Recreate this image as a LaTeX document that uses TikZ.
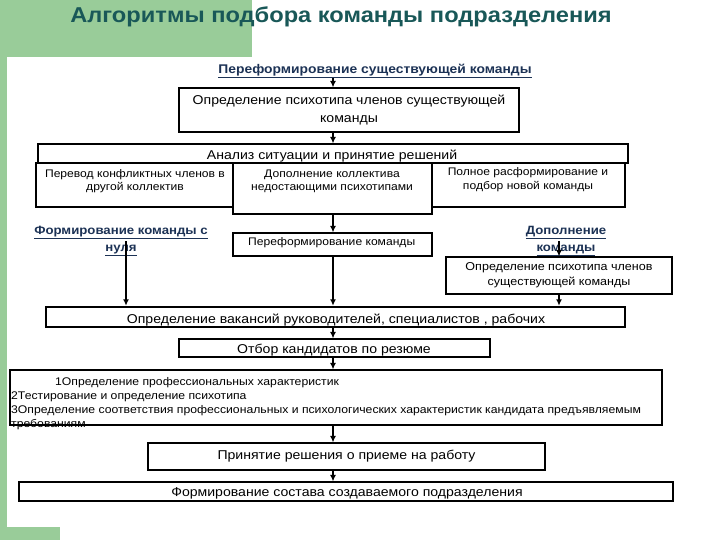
\documentclass[tikz,border=0pt]{standalone}
\usepackage{fontspec}
\setmainfont{Liberation Sans}[FakeStretch=1.1]
\usetikzlibrary{arrows.meta}
\definecolor{gr}{RGB}{153,204,153}
\definecolor{titlec}{RGB}{25,88,88}
\definecolor{navy}{RGB}{28,50,85}
\begin{document}
\begin{tikzpicture}[x=1pt,y=-1pt,
 box/.style={draw=black, line width=1.1pt, inner sep=0, fill=white},
 txt/.style={inner sep=0, align=center, font=\fontsize{12.8}{18}\selectfont},
 stxt/.style={inner sep=0, align=center, font=\fontsize{11}{13}\selectfont},
 ul/.style={inner sep=0, align=center, text=navy, font=\bfseries\fontsize{12}{17}\selectfont},
 arr/.style={-{Latex[length=6.5pt,width=6pt]}, line width=1.3pt}]
\useasboundingbox (0,0) rectangle (720,540);
\fill[white] (0,0) rectangle (720,540);
\fill[gr] (0,0) rectangle (252,57);
\fill[gr] (0,0) rectangle (7,540);
\fill[gr] (0,527) rectangle (60,540);
\coordinate (cx) at (333,0);
\coordinate (cf) at (126,0);
\coordinate (cd) at (559,0);
% title
\node[inner sep=0, text=titlec, font=\bfseries\fontsize{21.5}{24}\selectfont] (title) at (341,17) {Алгоритмы подбора команды подразделения};
% top
\node[ul, font=\bfseries\fontsize{12.6}{15}\selectfont] (t1) at (375,71) {\underline{Переформирование существующей команды}};
\node[box, txt, minimum width=340pt, minimum height=44pt] (b2) at (349,110) {Определение психотипа членов существующей\\команды};
% analysis
\node[box, minimum width=590pt, minimum height=19pt] (ban) at (333,153.5) {};
\node[txt] (tan) at (332,156) {Анализ ситуации и принятие решений};
\node[box, minimum width=197pt, minimum height=44pt] (b5) at (134.5,185) {};
\node[stxt] (t5) at (135,181.5) {Перевод конфликтных членов в\\другой коллектив};
\node[box, minimum width=199pt, minimum height=51pt] (b6) at (332.5,188.5) {};
\node[stxt] (t6) at (332,181) {Дополнение коллектива\\недостающими психотипами};
\node[box, minimum width=193pt, minimum height=44pt] (b7) at (528.5,185) {};
\node[stxt, font=\fontsize{11}{14}\selectfont] (t7) at (528,180) {Полное расформирование и\\подбор новой команды};
% second row
\node[ul] (tf) at (121,241) {\underline{Формирование команды с}\\\underline{нуля}};
\node[box, minimum width=199pt, minimum height=23pt] (b9) at (332.5,244.5) {};
\node[inner sep=0, anchor=west, font=\fontsize{11}{14}\selectfont] (t9) at (248,243) {Переформирование команды};
\node[ul] (td) at (566,241) {\underline{Дополнение}\\\underline{команды}};
\node[box, align=center, font=\fontsize{11.4}{15}\selectfont, minimum width=226pt, minimum height=37pt] (b11) at (559,275.5) {Определение психотипа членов\\существующей команды};
% vacancies
\node[box, line width=2.5pt, minimum width=579pt, minimum height=20pt] (b12) at (335.5,317) {};
\node[txt] (t12) at (336,320) {Определение вакансий руководителей, специалистов , рабочих};
\node[box, minimum width=311pt, minimum height=18pt] (b13) at (334.5,348) {};
\node[txt] (t13) at (334,350) {Отбор кандидатов по резюме};
\node[box, minimum width=652pt, minimum height=55pt] (b14) at (336,397.5) {};
\node[inner sep=0, anchor=base west, font=\fontsize{11.1}{14}\selectfont] (l1) at (55,385) {1Определение профессиональных характеристик};
\node[inner sep=0, anchor=base west, font=\fontsize{11.1}{14}\selectfont] (l2) at (11,399) {2Тестирование и определение психотипа};
\node[inner sep=0, anchor=base west, font=\fontsize{11.1}{14}\selectfont] (l3) at (11,413) {3Определение соответствия профессиональных и психологических характеристик кандидата предъявляемым};
\node[inner sep=0, anchor=base west, font=\fontsize{11.1}{14}\selectfont] (l4) at (11,427) {требованиям};
\node[box, txt, minimum width=397pt, minimum height=27pt] (b15) at (346.5,456.5) {Принятие решения о приеме на работу};
\node[box, minimum width=654pt, minimum height=19pt] (b16) at (346,491.5) {};
\node[txt] (t16) at (347,493) {Формирование состава создаваемого подразделения};
% arrows
\draw[arr] (t1.south -| cx) -- (b2.north -| cx);
\draw[arr] (b2.south -| cx) -- (ban.north -| cx);
\draw[arr] (b6.south -| cx) -- (b9.north -| cx);
\draw[arr] (b9.south -| cx) -- (b12.north -| cx);
\draw[arr] (tf.center -| cf) -- (b12.north -| cf);
\draw[arr] (td.center -| cd) -- (b11.north -| cd);
\draw[arr] (b11.south -| cd) -- (b12.north -| cd);
\draw[arr] (b12.south -| cx) -- (b13.north -| cx);
\draw[arr] (b13.south -| cx) -- (b14.north -| cx);
\draw[arr] (b14.south -| cx) -- (b15.north -| cx);
\draw[arr] (b15.south -| cx) -- (b16.north -| cx);
\end{tikzpicture}
\end{document}
